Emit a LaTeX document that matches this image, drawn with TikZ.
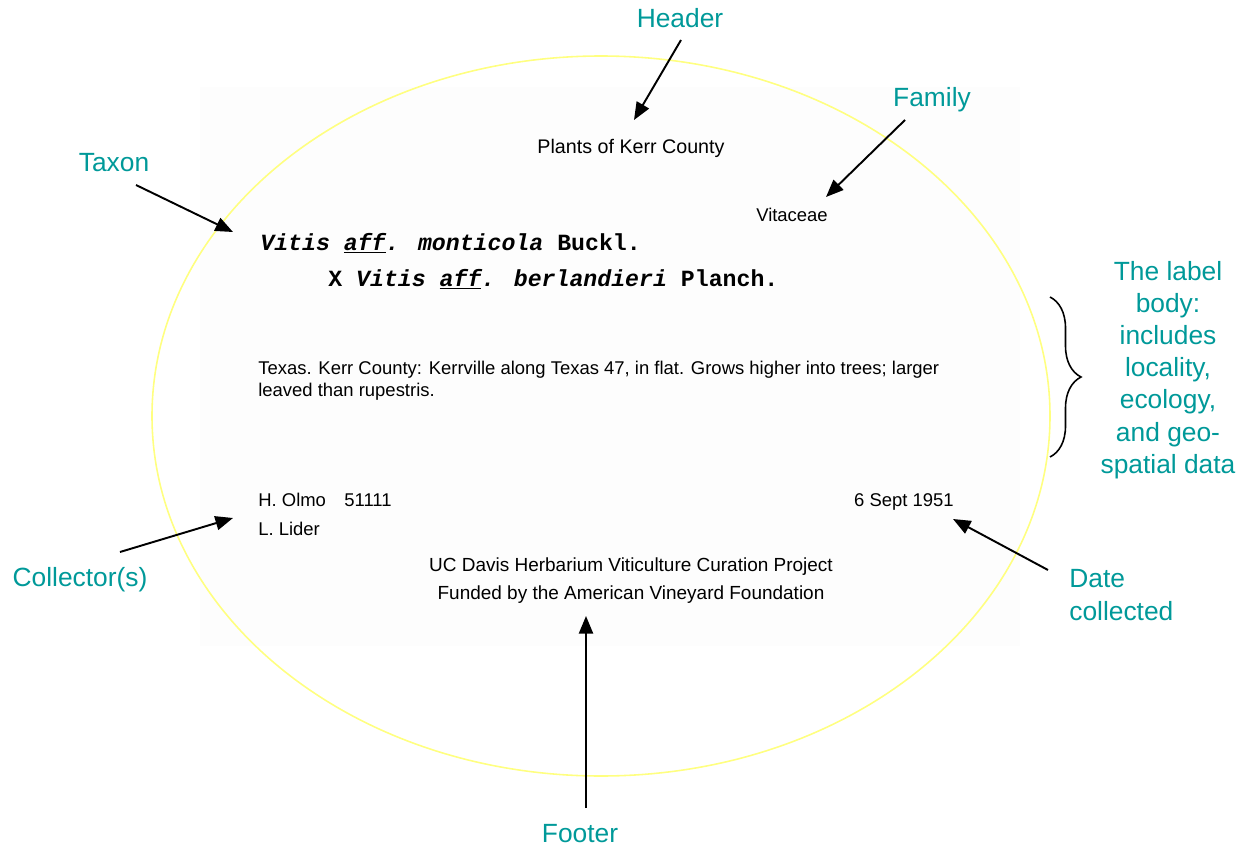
\documentclass[tikz,border=0pt]{standalone}
\usepackage{fontspec}
\setmainfont{Liberation Sans}
\newfontfamily\taxonfont{Liberation Mono}
\usetikzlibrary{arrows.meta,decorations.pathreplacing}
\definecolor{callout}{HTML}{009999}
\definecolor{rim}{HTML}{FFFF80}
\definecolor{sheet}{HTML}{FDFDFD}
\begin{document}
\begin{tikzpicture}[x=0.02cm,y=-0.02cm]
	\tikzset{every node/.style={inner sep=0pt},
		tag/.style={text=callout,font=\fontsize{15}{18.3}\selectfont},
		lbl/.style={font=\fontsize{10.5}{12.5}\selectfont},
		wide/.style={font=\fontsize{10.8}{12.5}\selectfont},
		taxon/.style={font=\taxonfont\bfseries\fontsize{13.2}{16}\selectfont,anchor=base west},
		pointer/.style={draw=black,line width=1.1pt,-{Triangle[length=10pt,width=8pt]}}}
	\useasboundingbox (0,0) rectangle (1247,855);
	\fill [sheet] (200,87) rectangle (1020,646);
	\draw [rim,line width=0.9pt] (601,416) ellipse (449 and 360);
	% label contents
	\node [lbl,font=\fontsize{11.2}{13}\selectfont] (head) at (631,148) {Plants of Kerr County};
	\node [lbl] (fam) at (792,215) {Vitaceae};
	\node [taxon] (tx1) at (260,250) {\itshape Vitis \underline{aff}. monticola \upshape Buckl.};
	\node [taxon] (tx2) at (328,286) {X \itshape Vitis \underline{aff}. berlandieri \upshape Planch.};
	\node [lbl,anchor=base west,align=left] (body) at (258,396) {Texas. Kerr County: Kerrville along Texas 47, in flat. Grows higher into trees; larger\\leaved than rupestris.};
	\node [lbl,anchor=base west] (coll1) at (258,506) {H. Olmo\quad 51111};
	\node [lbl,anchor=base west] (coll2) at (258,535) {L. Lider};
	\node [lbl,anchor=base east] (date) at (954,506) {6 Sept 1951};
	\node [wide] (foot1) at (631,567) {UC Davis Herbarium Viticulture Curation Project};
	\node [wide] (foot2) at (631,595) {Funded by the American Vineyard Foundation};
	% callouts
	\node [tag] (theader) at (680,18) {Header};
	\node [tag] (tfamily) at (932,100) {Family};
	\node [tag] (ttaxon) at (114,163) {Taxon};
	\node [tag,align=center] (tbody) at (1168,370) {The label\\body:\\includes\\locality,\\ecology,\\and geo-\\spatial data};
	\node [tag] (tcoll) at (80,580) {Collector(s)};
	\node [tag,align=left,anchor=west] (tdate) at (1069,595) {Date\\collected};
	\node [tag] (tfooter) at (580,834) {Footer};
	% arrow ends
	\coordinate (hA) at (681,40);  \coordinate (hB) at (634,120);
	\coordinate (fA) at (905,120); \coordinate (fB) at (826,197);
	\coordinate (xA) at (136,185); \coordinate (xB) at (233,232);
	\coordinate (cA) at (120,552); \coordinate (cB) at (233,518);
	\coordinate (dA) at (1048,570); \coordinate (dB) at (953,519);
	\coordinate (oA) at (586,808); \coordinate (oB) at (586,616);
	\draw [pointer] (hA) -- (hB);
	\draw [pointer] (fA) -- (fB);
	\draw [pointer] (xA) -- (xB);
	\draw [pointer] (cA) -- (cB);
	\draw [pointer] (dA) -- (dB);
	\draw [pointer] (oA) -- (oB);
	\coordinate (bTop) at (1050,297); \coordinate (bBot) at (1050,457);
	\draw [black,line width=0.9pt,decorate,decoration={brace,amplitude=0.62cm}] (bTop) -- (bBot);
\end{tikzpicture}
\end{document}
